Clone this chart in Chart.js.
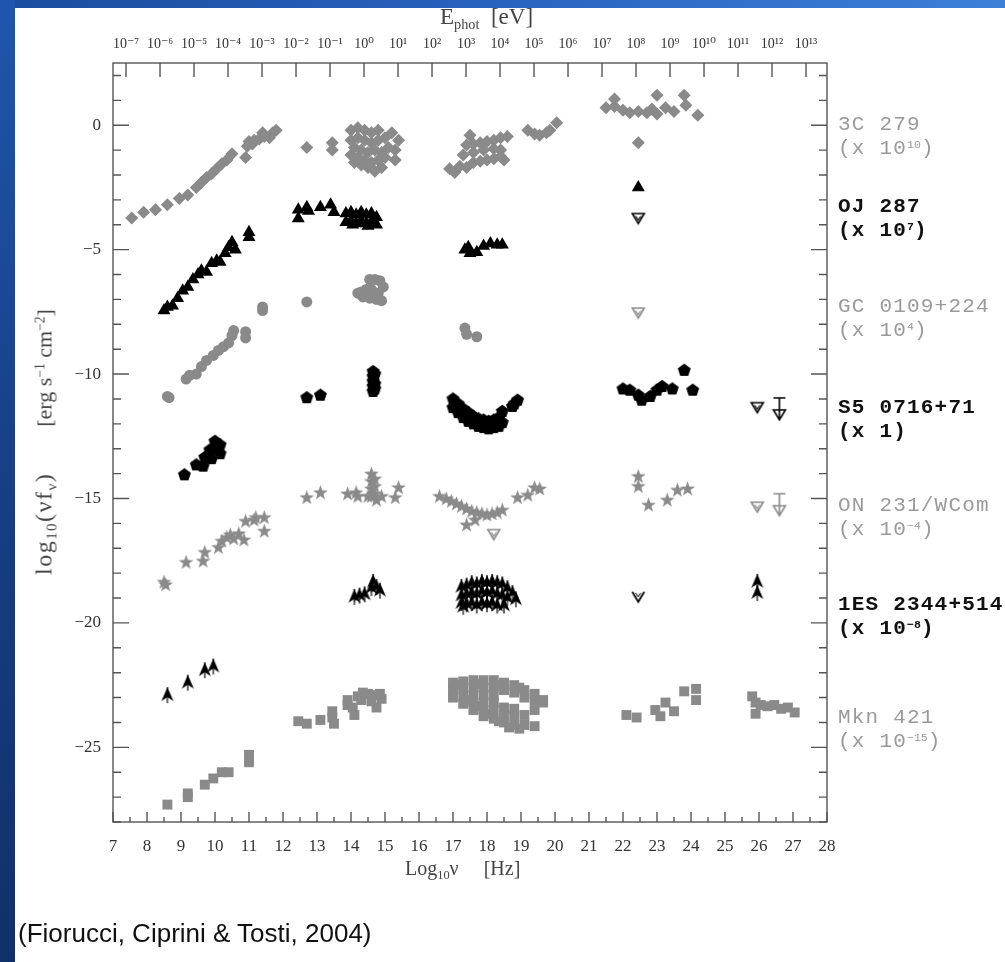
<!DOCTYPE html>
<html>
<head>
<meta charset="utf-8">
<script src="https://cdn.jsdelivr.net/npm/chart.js@4.4.0/dist/chart.umd.min.js"></script>
<style>
html, body { margin: 0; padding: 0; }
body { width: 1005px; height: 962px; position: relative; overflow: hidden;
       background: linear-gradient(90deg, #1c4c9c 0%, #2863c0 50%, #3c80d8 100%); }
#leftbar { position: absolute; left: 0; top: 0; width: 15px; height: 962px;
           background: linear-gradient(180deg, #1f56ad 0%, #173f84 50%, #10306a 100%); }
#panel { position: absolute; left: 15px; top: 8px; width: 990px; height: 954px; background: #fff; }
#c { position: absolute; left: 0; top: 0; }
.t { position: absolute; white-space: nowrap; font-family: "Liberation Serif", "DejaVu Serif", serif; color: #444; }
.t sub, .t sup, .lab sup { font-size: 62%; line-height: 0; position: relative; vertical-align: baseline; }
.t sub { top: 0.35em; }
.t sup, .lab sup { top: -0.55em; }
.lab { position: absolute; white-space: nowrap; font-family: "Liberation Mono", "DejaVu Sans Mono", monospace;
       font-size: 21px; letter-spacing: 1.2px; line-height: 24px; }
.lab sup { letter-spacing: 0; font-size: 55%; }
.g { color: #9a9a9a; }
.k { color: #111; font-weight: bold; }
#cap { position: absolute; left: 18px; top: 918px; font-family: "Liberation Sans", Arial, sans-serif;
       font-size: 26px; color: #111; white-space: nowrap; }
</style>
</head>
<body>
<div id="leftbar"></div>
<div id="panel"></div>
<canvas id="c" width="1005" height="962"></canvas>

<div class="t" style="left:440px; top:4px; font-size:23px;">E<sub>phot</sub>&nbsp; [eV]</div>
<div class="t" style="left:405px; top:857px; font-size:20px;">Log<sub>10</sub>ν &nbsp;&nbsp;&nbsp; [Hz]</div>
<div class="t" style="left:44px; top:442px; font-size:22px; transform:translate(-50%,-50%) rotate(-90deg);"><span style="font-size:24px; letter-spacing:1.5px;">log<sub>10</sub>(νf<sub>ν</sub>)</span><span style="display:inline-block; width:46px;"></span>[erg s<sup>−1</sup> cm<sup>−2</sup>]</div>

<div class="lab g" style="left:838px; top:113px;">3C 279<br>(x 10<sup>10</sup>)</div>
<div class="lab k" style="left:838px; top:195px;">OJ 287<br>(x 10<sup>7</sup>)</div>
<div class="lab g" style="left:838px; top:295px;">GC 0109+224<br>(x 10<sup>4</sup>)</div>
<div class="lab k" style="left:838px; top:396px;">S5 0716+71<br>(x 1)</div>
<div class="lab g" style="left:838px; top:494px;">ON 231/WCom<br>(x 10<sup>−4</sup>)</div>
<div class="lab k" style="left:838px; top:593px;">1ES 2344+514<br>(x 10<sup>−8</sup>)</div>
<div class="lab g" style="left:838px; top:706px;">Mkn 421<br>(x 10<sup>−15</sup>)</div>

<div id="cap">(Fiorucci, Ciprini &amp; Tosti, 2004)</div>

<script>
// log10(nu) [Hz], log10(nu F_nu)
const s3c279 = [
  [7.55,-3.73],[7.9,-3.5],[8.25,-3.4],[8.6,-3.2],[8.95,-2.95],[9.2,-2.8],[9.45,-2.5],[9.6,-2.3],
  [9.75,-2.1],[9.9,-1.95],[10.05,-1.75],[10.2,-1.55],[10.35,-1.4],[10.5,-1.15],[10.9,-1.3],
  [10.95,-0.85],[11.0,-0.65],[11.15,-0.6],[11.3,-0.55],[11.45,-0.45],[11.6,-0.5],[11.7,-0.3],
  [11.8,-0.2],[11.4,-0.3],[11.1,-0.75],
  [12.7,-0.9],[13.45,-0.7],[13.45,-1.0],
  [14.0,-0.2],[14.2,-0.1],[14.4,-0.2],[14.6,-0.3],[14.8,-0.2],[15.2,-0.3],[15.4,-0.6],[14.0,-0.6],
  [14.2,-0.5],[14.4,-0.6],[14.6,-0.7],[14.8,-0.6],[15.0,-0.5],[15.3,-1.0],[14.1,-0.9],[14.3,-1.0],
  [14.5,-1.1],[14.7,-1.0],[14.9,-1.1],[15.1,-0.9],[14.2,-1.3],[14.4,-1.4],[14.6,-1.5],[14.8,-1.4],
  [15.0,-1.3],[15.3,-1.4],[14.5,-1.7],[14.7,-1.85],[14.9,-1.7],[14.1,-1.5],[14.3,-1.6],[14.0,-1.2],
  [17.5,-0.4],[17.4,-0.8],[17.6,-0.75],[17.8,-0.7],[18.0,-0.65],[18.2,-0.6],[18.4,-0.5],[18.6,-0.45],
  [17.6,-1.1],[17.9,-1.0],[18.2,-0.95],[18.4,-1.0],[17.3,-1.2],
  [16.9,-1.75],[17.05,-1.9],[17.2,-1.65],[17.4,-1.7],[17.6,-1.5],[17.8,-1.45],[18.0,-1.4],[18.2,-1.35],
  [18.4,-1.25],[18.5,-1.4],
  [19.2,-0.2],[19.4,-0.35],[19.55,-0.4],[19.75,-0.3],[19.85,-0.2],[20.05,0.1],
  [21.5,0.7],[21.75,1.05],[21.75,0.75],[22.0,0.6],[22.2,0.5],[22.45,0.55],[22.7,0.5],[22.85,0.65],
  [23.0,1.2],[23.0,0.45],[23.25,0.7],[23.5,0.55],[23.8,1.2],[23.85,0.8],[24.2,0.4],[22.45,-0.7]
];
const oj287 = [
  [8.5,-7.45],[8.6,-7.3],[8.75,-7.25],[8.9,-6.95],[9.05,-6.65],[9.2,-6.5],[9.35,-6.2],[9.5,-6.0],
  [9.6,-5.85],[9.75,-5.9],[9.9,-5.55],[10.05,-5.45],[10.15,-5.5],[10.3,-5.15],[10.4,-4.9],[10.5,-4.7],
  [10.6,-5.0],[11.0,-4.5],[11.0,-4.3],
  [12.45,-3.4],[12.45,-3.75],[12.7,-3.3],[12.75,-3.45],[13.1,-3.3],[13.4,-3.2],[13.5,-3.5],
  [13.85,-3.55],[13.85,-3.9],[14.0,-3.5],[14.0,-3.85],[14.15,-3.6],[14.15,-3.95],[14.3,-3.5],
  [14.3,-3.85],[14.45,-3.6],[14.45,-3.95],[14.6,-3.55],[14.6,-3.9],[14.75,-3.7],[14.75,-4.0],
  [14.05,-4.0],[14.5,-4.05],
  [17.35,-5.0],[17.5,-5.15],[17.7,-5.1],[17.9,-4.85],[18.1,-4.75],[18.3,-4.8],[18.45,-4.8],[17.45,-4.9],
  [22.45,-2.5]
];
const gc0109 = [
  [8.6,-10.9],[8.65,-10.95],[9.15,-10.2],[9.25,-10.05],[9.45,-10.0],[9.6,-9.7],[9.75,-9.45],
  [9.95,-9.25],[10.1,-9.05],[10.25,-8.9],[10.4,-8.75],[10.5,-8.45],[10.55,-8.25],[10.9,-8.3],
  [10.9,-8.55],[11.4,-7.3],[11.4,-7.45],[12.7,-7.1],
  [14.2,-6.75],[14.35,-6.9],[14.45,-6.6],[14.55,-6.2],[14.7,-6.2],[14.85,-6.25],[14.6,-6.6],
  [14.8,-6.75],[14.9,-7.05],[14.75,-7.0],[14.55,-6.95],[14.95,-6.5],[14.3,-6.7],
  [17.35,-8.15],[17.4,-8.4],[17.7,-8.5]
];
const s50716 = [
  [9.1,-14.05],[9.45,-13.65],[9.65,-13.7],[9.7,-13.35],[9.85,-13.05],[10.0,-12.7],[10.15,-12.85],
  [10.15,-13.2],[10.0,-12.95],[9.9,-13.4],[10.05,-13.0],
  [12.7,-10.95],[13.1,-10.85],
  [14.65,-9.9],[14.65,-10.1],[14.65,-10.3],[14.65,-10.5],[14.65,-10.7],[14.7,-10.0],[14.7,-10.4],[14.7,-10.6],
  [17.0,-11.0],[17.0,-11.35],[17.15,-11.2],[17.15,-11.55],[17.3,-11.4],[17.3,-11.75],[17.45,-11.55],
  [17.45,-11.9],[17.6,-11.7],[17.6,-12.0],[17.75,-11.8],[17.75,-12.1],[17.9,-11.85],[17.9,-12.15],
  [18.05,-11.9],[18.05,-12.2],[18.2,-11.85],[18.2,-12.15],[18.35,-11.75],[18.35,-12.1],[18.45,-11.5],
  [18.45,-11.95],[18.75,-11.3],[18.9,-11.05],[18.8,-11.2],
  [22.0,-10.6],[22.2,-10.65],[22.45,-10.85],[22.55,-11.05],[22.8,-10.9],[23.0,-10.65],[23.15,-10.5],
  [23.45,-10.6],[23.8,-9.85],[24.05,-10.65]
];
const on231 = [
  [8.5,-18.35],[8.55,-18.45],[9.15,-17.55],[9.65,-17.5],[9.7,-17.15],[10.1,-16.95],[10.2,-16.7],
  [10.35,-16.55],[10.45,-16.45],[10.7,-16.4],[10.85,-16.65],[10.9,-15.9],[11.15,-15.85],[11.2,-15.75],
  [11.45,-15.75],[11.45,-16.3],[10.55,-16.6],
  [12.7,-14.95],[13.1,-14.75],
  [13.9,-14.8],[14.15,-14.75],[14.2,-14.9],[14.6,-14.0],[14.6,-14.3],[14.6,-14.6],[14.6,-14.9],
  [14.7,-14.2],[14.7,-14.5],[14.7,-14.8],[14.75,-15.05],[14.5,-14.9],[15.3,-14.95],[15.4,-14.55],[14.9,-14.9],
  [16.6,-14.9],[16.8,-15.0],[16.95,-15.1],[17.1,-15.2],[17.25,-15.3],[17.4,-15.4],[17.55,-15.5],
  [17.7,-15.55],[17.85,-15.6],[18.0,-15.65],[18.15,-15.6],[18.3,-15.55],[18.45,-15.45],[17.4,-16.05],
  [17.65,-15.85],[18.9,-14.95],[19.2,-14.85],[19.4,-14.55],[19.55,-14.6],
  [22.45,-14.1],[22.45,-14.5],[22.75,-15.25],[23.3,-15.05],[23.6,-14.65],[23.9,-14.6]
];
const es2344 = [
  [8.6,-22.9],[9.2,-22.4],[9.7,-21.9],[9.95,-21.75],
  [14.1,-18.95],[14.25,-18.9],[14.4,-18.85],[14.6,-18.6],[14.65,-18.35],[14.75,-18.55],[14.85,-18.7],
  [17.25,-18.55],[17.25,-18.9],[17.25,-19.2],[17.4,-18.5],[17.4,-18.85],[17.4,-19.25],[17.55,-18.4],
  [17.55,-18.8],[17.55,-19.2],[17.7,-18.45],[17.7,-18.85],[17.7,-19.3],[17.85,-18.35],[17.85,-18.75],
  [17.85,-19.2],[18.0,-18.4],[18.0,-18.8],[18.0,-19.25],[18.15,-18.35],[18.15,-18.75],[18.15,-19.2],
  [18.3,-18.4],[18.3,-18.85],[18.3,-19.3],[18.45,-18.45],[18.45,-18.9],[18.6,-18.6],[18.6,-19.0],
  [18.75,-18.8],[18.85,-19.05],[17.3,-19.35],[18.5,-19.3],
  [25.95,-18.35],[25.95,-18.8]
];
const mkn421 = [
  [8.6,-27.3],[9.2,-27.0],[9.2,-26.85],[9.7,-26.5],[9.95,-26.25],[10.2,-26.0],[10.4,-26.0],[11.0,-25.3],[11.0,-25.6],
  [12.45,-23.95],[12.7,-24.05],[13.1,-23.9],[13.45,-23.55],[13.5,-24.05],[13.45,-23.8],
  [13.9,-23.3],[13.9,-23.1],[14.1,-23.7],[14.05,-23.4],[14.2,-22.95],[14.35,-22.8],[14.5,-22.85],
  [14.65,-22.9],[14.85,-22.85],[14.9,-23.05],[14.75,-23.4],[14.3,-23.1],[14.6,-23.15],
  [17.0,-22.4],[17.0,-22.7],[17.0,-23.0],[17.3,-22.35],[17.3,-22.65],[17.3,-22.95],[17.3,-23.25],
  [17.6,-22.3],[17.6,-22.6],[17.6,-22.9],[17.6,-23.2],[17.6,-23.5],[17.9,-22.3],[17.9,-22.6],
  [17.9,-22.9],[17.9,-23.2],[17.9,-23.5],[17.9,-23.75],[18.2,-22.3],[18.2,-22.6],[18.2,-22.9],
  [18.2,-23.2],[18.2,-23.5],[18.2,-23.85],[18.5,-22.4],[18.5,-22.7],[18.5,-23.4],[18.5,-23.7],
  [18.5,-24.0],[18.8,-22.5],[18.8,-22.8],[18.8,-23.45],[18.8,-23.75],[18.8,-24.1],[19.1,-22.7],
  [19.1,-23.0],[19.1,-23.7],[19.1,-24.1],[19.4,-22.85],[19.4,-23.1],[19.4,-23.5],[19.4,-24.15],
  [19.65,-23.1],[19.65,-23.2],[17.15,-22.5],[17.45,-23.1],[17.75,-23.35],[18.05,-23.65],[18.35,-23.95],
  [18.65,-24.2],[18.95,-24.25],[17.75,-22.45],[18.35,-22.5],[18.95,-22.6],
  [22.1,-23.7],[22.4,-23.8],[22.95,-23.5],[23.1,-23.75],[23.25,-23.2],[23.5,-23.55],[23.8,-22.75],
  [24.15,-22.65],[24.15,-23.1],
  [25.8,-22.95],[25.9,-23.2],[25.9,-23.65],[26.05,-23.3],[26.25,-23.35],[26.45,-23.3],[26.65,-23.45],
  [26.85,-23.4],[27.05,-23.6]
];
// upper limits
const ulGrey = [[22.45,-7.55],[18.2,-16.45],[25.95,-15.35]];
const ulBlack = [[22.45,-3.75],[25.95,-11.35]];
const ulArrowGrey = [[26.6,-15.25]];
const ulArrowBlack = [[26.6,-11.4]];
const ulV = [[22.45,-18.95]];

const xTicks = [7,8,9,10,11,12,13,14,15,16,17,18,19,20,21,22,23,24,25,26,27,28];
const yTicks = [-25,-20,-15,-10,-5,0];
const eTicks = [-7,-6,-5,-4,-3,-2,-1,0,1,2,3,4,5,6,7,8,9,10,11,12,13];
const HZ_PER_EV = 14.383;   // log10 of nu for 1 eV

const GREY = '#8a8a8a';
const SERIF = '"Liberation Serif", "DejaVu Serif", serif';

function mk(w, h, fn) {
    const c = document.createElement('canvas');
    c.width = w; c.height = h;
    const g = c.getContext('2d');
    g.translate(w / 2, h / 2);
    fn(g);
    return c;
}

const pentagon = mk(15, 15, g => {
    g.beginPath();
    for (let i = 0; i < 5; i++) {
        const a = -Math.PI / 2 + i * 2 * Math.PI / 5;
        g.lineTo(6.8 * Math.cos(a), 6.8 * Math.sin(a));
    }
    g.closePath(); g.fillStyle = '#000'; g.fill();
});
const star = mk(17, 17, g => {
    g.beginPath();
    for (let i = 0; i < 10; i++) {
        const a = -Math.PI / 2 + i * Math.PI / 5;
        const r = i % 2 ? 3.1 : 7.8;
        g.lineTo(r * Math.cos(a), r * Math.sin(a) + 0.6);
    }
    g.closePath(); g.fillStyle = GREY; g.fill();
});
const arrowHead = mk(16, 18, g => {
    g.fillStyle = '#000'; g.strokeStyle = '#000'; g.lineWidth = 1.2;
    g.beginPath();
    g.moveTo(0, -8); g.lineTo(6, 6); g.lineTo(0, 2); g.lineTo(-6, 6);
    g.closePath(); g.fill();
    g.beginPath(); g.moveTo(0, -8); g.lineTo(0, 8); g.stroke();
});
function openTri(col) {
    return mk(16, 14, g => {
        g.strokeStyle = col; g.lineWidth = 1.6;
        g.beginPath(); g.moveTo(-6, -5); g.lineTo(6, -5); g.lineTo(0, 5); g.closePath(); g.stroke();
        g.lineWidth = 1.1;
        g.beginPath(); g.moveTo(-2.5, -2.5); g.lineTo(0, 1.5); g.lineTo(2.5, -2.5); g.stroke();
    });
}
function arrowLim(col) {
    return mk(16, 26, g => {
        g.strokeStyle = col; g.lineWidth = 1.6;
        g.beginPath();
        g.moveTo(-6, -11); g.lineTo(6, -11);
        g.moveTo(0, -11); g.lineTo(0, 10);
        g.moveTo(-6, 1); g.lineTo(6, 1); g.lineTo(0, 11); g.closePath();
        g.stroke();
    });
}
const vOpen = mk(16, 14, g => {
    g.strokeStyle = '#000'; g.lineWidth = 1.8;
    g.beginPath(); g.moveTo(-6, -5); g.lineTo(0, 5); g.lineTo(6, -5); g.stroke();
    g.lineWidth = 1;
    g.beginPath(); g.moveTo(-2.5, -4); g.lineTo(0, 0); g.lineTo(2.5, -4); g.stroke();
});

function set(label, data, style, color, radius) {
    return { label, data, pointStyle: style, backgroundColor: color, borderColor: color,
             borderWidth: 0, pointRadius: radius || 5, xAxisID: 'x', yAxisID: 'y' };
}

const supMap = { '-': '⁻', '0': '⁰', '1': '¹', '2': '²', '3': '³', '4': '⁴', '5': '⁵', '6': '⁶', '7': '⁷', '8': '⁸', '9': '⁹' };
const sup = n => String(n).split('').map(ch => supMap[ch]).join('');

const frame = {
    id: 'frame',
    afterDatasetsDraw(ch) {
        const { ctx, chartArea: a, scales: { x, x2, y } } = ch;
        ctx.save();
        ctx.strokeStyle = '#555';
        ctx.lineWidth = 1.4;
        ctx.strokeRect(a.left, a.top, a.right - a.left, a.bottom - a.top);
        ctx.beginPath();
        for (let v = 7; v <= 28; v += 0.5) {
            const px = x.getPixelForValue(v);
            const L = v % 1 === 0 ? 10 : 5;
            ctx.moveTo(px, a.bottom); ctx.lineTo(px, a.bottom - L);
        }
        eTicks.forEach(v => {
            const px = x2.getPixelForValue(v);
            ctx.moveTo(px, a.top); ctx.lineTo(px, a.top + 14);
        });
        for (let v = -28; v <= 2; v++) {
            const py = y.getPixelForValue(v);
            const L = v % 5 === 0 ? 16 : 8;
            ctx.moveTo(a.left, py); ctx.lineTo(a.left + L, py);
            ctx.moveTo(a.right, py); ctx.lineTo(a.right - L, py);
        }
        ctx.stroke();
        ctx.restore();
    }
};

new Chart(document.getElementById('c'), {
    type: 'scatter',
    data: {
        datasets: [
            set('3C 279', s3c279, 'rectRot', GREY, 6.5),
            set('OJ 287', oj287, 'triangle', '#000', 7.5),
            set('GC 0109+224', gc0109, 'circle', GREY, 5.5),
            set('S5 0716+71', s50716, pentagon, '#000'),
            set('ON 231/WCom', on231, star, GREY),
            set('1ES 2344+514', es2344, arrowHead, '#000'),
            set('Mkn 421', mkn421, 'rect', GREY, 7),
            set('UL grey', ulGrey, openTri(GREY), GREY),
            set('UL black', ulBlack, openTri('#000'), '#000'),
            set('UL arrow grey', ulArrowGrey, arrowLim(GREY), GREY),
            set('UL arrow black', ulArrowBlack, arrowLim('#000'), '#000'),
            set('UL 1ES', ulV, vOpen, '#000')
        ]
    },
    options: {
        responsive: false,
        animation: false,
        layout: { padding: { left: 0, right: 178, top: 0, bottom: 0 } },
        plugins: { legend: { display: false }, tooltip: { enabled: false } },
        scales: {
            x: {
                type: 'linear', axis: 'x', position: 'bottom', min: 7, max: 28,
                afterFit: s => { s.height = 140; },
                afterBuildTicks: s => { s.ticks = xTicks.map(v => ({ value: v })); },
                grid: { display: false, drawTicks: false }, border: { display: false },
                ticks: { font: { family: SERIF, size: 17 }, color: '#333', padding: 14, maxRotation: 0, autoSkip: false }
            },
            x2: {
                type: 'linear', axis: 'x', position: 'top', min: 7 - HZ_PER_EV, max: 28 - HZ_PER_EV,
                afterFit: s => { s.height = 63; },
                afterBuildTicks: s => { s.ticks = eTicks.map(v => ({ value: v })); },
                grid: { display: false, drawTicks: false }, border: { display: false },
                ticks: { font: { family: SERIF, size: 14 }, color: '#333', padding: 10, maxRotation: 0, autoSkip: false,
                         callback: v => '10' + sup(v) }
            },
            y: {
                type: 'linear', position: 'left', min: -28, max: 2.5,
                afterFit: s => { s.width = 113; },
                afterBuildTicks: s => { s.ticks = yTicks.map(v => ({ value: v })); },
                grid: { display: false, drawTicks: false }, border: { display: false },
                ticks: { font: { family: SERIF, size: 17 }, color: '#333', padding: 12,
                         callback: v => String(v).replace('-', '−') }
            }
        }
    },
    plugins: [frame]
});
</script>
</body>
</html>
